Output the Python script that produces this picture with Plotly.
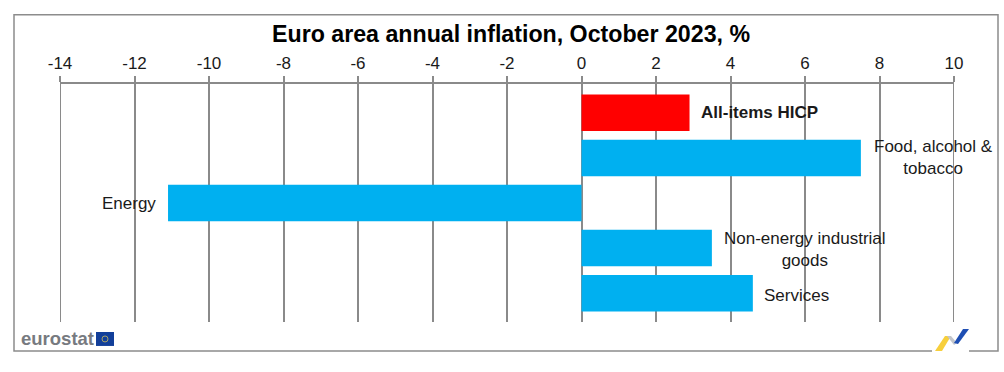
import plotly.graph_objects as go

categories = ["All-items HICP", "Food, alcohol &<br>tobacco", "Energy", "Non-energy industrial<br>goods", "Services"]
values = [2.9, 7.5, -11.1, 3.5, 4.6]
bar_colors = ["#ff0000", "#00b0f0", "#00b0f0", "#00b0f0", "#00b0f0"]
label_x = [4.79, 9.44, -12.15, 6.0, 5.76]
label_shift = [0, 0, 0, -1, -2]
tick_vals = list(range(-14, 11, 2))
tick_text = [str(v) for v in tick_vals]
title = "Euro area annual inflation, October 2023, %"

W, H = 1004, 372
L, R, T, B = 60, 954, 83.5, 322
GRID = "#8a8a8a"
FONT = "Liberation Sans, Arial, sans-serif"

def px(x):
    return (x - L) / (R - L)

def py(y):
    return (B - y) / (B - T)

def poly(points, color):
    path = "M" + " L".join(f"{px(a):.5f},{py(b):.5f}" for a, b in points) + " Z"
    return dict(type="path", xref="paper", yref="paper", path=path,
                fillcolor=color, line=dict(width=0), layer="above")

fig = go.Figure(go.Bar(
    y=list(range(len(categories))), x=values, orientation="h",
    marker=dict(color=bar_colors, line=dict(width=0)), width=0.81,
    showlegend=False, hoverinfo="skip",
))

annotations = []
for i, (cat, lx, sh) in enumerate(zip(categories, label_x, label_shift)):
    text = f"<b>{cat}</b>" if i == 0 else cat
    annotations.append(dict(x=lx, y=i, xref="x", yref="y", text=text, showarrow=False, yshift=sh,
                            align="center", font=dict(family=FONT, size=17, color="#1a1a1a")))
annotations.append(dict(x=px(511), y=py(33), xref="paper", yref="paper", text=f"<b>{title}</b>",
                        showarrow=False, xanchor="center", yanchor="middle",
                        font=dict(family=FONT, size=23.2, color="#000000")))
annotations.append(dict(x=px(19), y=py(339), xref="paper", yref="paper", text="<b>eurostat</b>",
                        showarrow=False, xanchor="left", yanchor="middle",
                        font=dict(family=FONT, size=18.5, color="#777a80")))

shapes = [
    dict(type="rect", xref="paper", yref="paper", x0=px(14), x1=px(998), y0=py(351), y1=py(14),
         line=dict(color="#8c8c8c", width=1.5), fillcolor="rgba(0,0,0,0)", layer="below"),
    dict(type="line", xref="x", yref="paper", x0=tick_vals[0], x1=tick_vals[0], y0=0, y1=1,
         line=dict(color=GRID, width=2), layer="below"),
    dict(type="line", xref="x", yref="paper", x0=tick_vals[-1], x1=tick_vals[-1], y0=0, y1=1,
         line=dict(color=GRID, width=2), layer="below"),
    dict(type="rect", xref="paper", yref="paper", x0=px(96), x1=px(114), y0=py(346), y1=py(332),
         fillcolor="#123f9a", line=dict(width=0), layer="above"),
    dict(type="circle", xref="paper", yref="paper", x0=px(102), x1=px(108), y0=py(342), y1=py(336),
         fillcolor="rgba(0,0,0,0)", line=dict(color="#a9a56a", width=1), layer="above"),
    dict(type="rect", xref="paper", yref="paper", x0=px(932), x1=px(969), y0=py(353), y1=py(349),
         fillcolor="#ffffff", line=dict(width=0), layer="above"),
    poly([(935, 351), (945, 336), (951, 336), (942, 351)], "#f7cf3c"),
    poly([(947, 336), (951, 336), (957, 343), (954, 345)], "#c3c6cc"),
    poly([(954, 343), (963, 329), (969, 329), (958, 344)], "#1f4fb4"),
]

fig.update_layout(
    width=W, height=H, margin=dict(l=L, r=W - R, t=T, b=H - B, pad=0),
    paper_bgcolor="#ffffff", plot_bgcolor="#ffffff", bargap=0.19,
    annotations=annotations, shapes=shapes,
    xaxis=dict(side="top", range=[-14, 10], tickmode="array", tickvals=tick_vals, ticktext=tick_text,
               ticks="outside", ticklen=6,
               tickcolor=GRID, tickwidth=1.5, showgrid=True, gridcolor=GRID, gridwidth=1.5,
               zeroline=False, showline=True, linecolor=GRID, linewidth=1.5, mirror=False,
               tickfont=dict(family=FONT, size=17, color="#1a1a1a"), layer="below traces"),
    yaxis=dict(range=[4.64, -0.64], showticklabels=False, showgrid=False, zeroline=False,
               showline=False, ticks=""),
)

fig.write_html("out.html", config=dict(displayModeBar=False),
               post_script="document.body.style.margin='0';")
